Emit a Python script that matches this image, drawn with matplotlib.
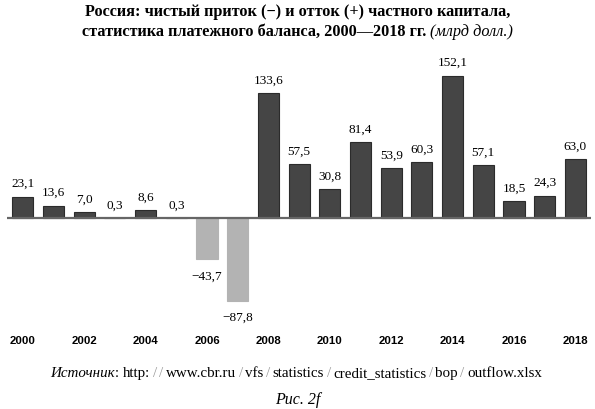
import numpy as np
import matplotlib.pyplot as plt

years = list(range(2000, 2019))
values = [23.1, 13.6, 7.0, 0.3, 8.6, 0.3, -43.7, -87.8, 133.6, 57.5,
          30.8, 81.4, 53.9, 60.3, 152.1, 57.1, 18.5, 24.3, 63.0]
tick_years = list(range(2000, 2019, 2))

title1 = 'Россия: чистый приток (−) и отток (+) частного капитала,'
title2_bold = 'статистика платежного баланса, 2000—2018 гг. '
title2_it = '(млрд долл.)'
source_it = 'Источник'
source_url = 'http://www.cbr.ru/vfs/statistics/credit_statistics/bop/outflow.xlsx'
fig_label = 'Рис. 2f'

serif = 'Liberation Serif'
sans = 'Liberation Sans'

fig = plt.figure(figsize=(5.95, 4.09), dpi=100)
ax = fig.add_axes([0, 0, 1, 1])
ax.set_axis_off()

W, H = 595, 409
zero_px = 218.3
scale = 0.9375
x0_px, step = 22.8, 30.7
ax.set_xlim(2000 - x0_px / step, 2000 + (W - x0_px) / step)
ax.set_ylim(-(H - zero_px) / scale, zero_px / scale)

vals = np.array(values)
colors = ['#454545' if v >= 0 else '#b3b3b3' for v in vals]
edges = ['#2b2b2b' if v >= 0 else '#b3b3b3' for v in vals]
ax.bar(years, vals, width=0.69, color=colors, edgecolor=edges, linewidth=0.8, zorder=2)
ax.hlines(0, 1999.49, 2018.5, color='#666666', linewidth=1.6, zorder=3)

for x, v in zip(years, vals):
    s = ('%.1f' % abs(v)).replace('.', ',')
    if v >= 0:
        ax.annotate(s, (x, v), xytext=(0, 9), textcoords='offset points',
                    ha='center', va='center', fontsize=9.5, family=serif)
    else:
        ax.annotate('−' + s, (x, v), xytext=(0, -12.5), textcoords='offset points',
                    ha='center', va='center', fontsize=9.5, family=serif)

tick_y = -(341 - zero_px) / scale
for y in tick_years:
    ax.text(y, tick_y, str(y), ha='center', va='center', fontsize=8.2,
            fontweight='bold', family=sans)


def centered_line(parts, base_px, size):
    # parts: (text, style, extra gap in px after it); laid out on one baseline, centred
    fig.canvas.draw()
    r = fig.canvas.get_renderer()
    objs = []
    for txt, kw, gap in parts:
        t = fig.text(0, 1 - base_px / H, txt, fontsize=size, va='baseline', ha='left', **kw)
        objs.append((t, gap))
    widths = [t.get_window_extent(r).width + g for t, g in objs]
    left = (W - sum(widths)) / 2
    for (t, g), w in zip(objs, widths):
        t.set_x(left / W)
        left += w


bold = dict(family=serif, fontweight='bold')
centered_line([(title1, bold, 0)], 15.5, 11.7)
centered_line([(title2_bold, bold, 0),
               (title2_it, dict(family=serif, style='italic'), 0)], 35.5, 11.7)

plain = dict(family=serif)
slash = dict(family=serif, color='#9a9a9a')
src = [(source_it, dict(family=serif, style='italic'), 0), (': ', plain, 0)]
chunks = source_url.split('/')
for i, c in enumerate(chunks):
    if c:
        src.append((c, plain, 2.5))
    if i < len(chunks) - 1:
        src.append(('/', slash, 2.5))
centered_line(src, 377, 10.8)
centered_line([(fig_label, dict(family=serif, style='italic'), 0)], 404.5, 11.5)

fig.savefig('out.png', dpi=100)
